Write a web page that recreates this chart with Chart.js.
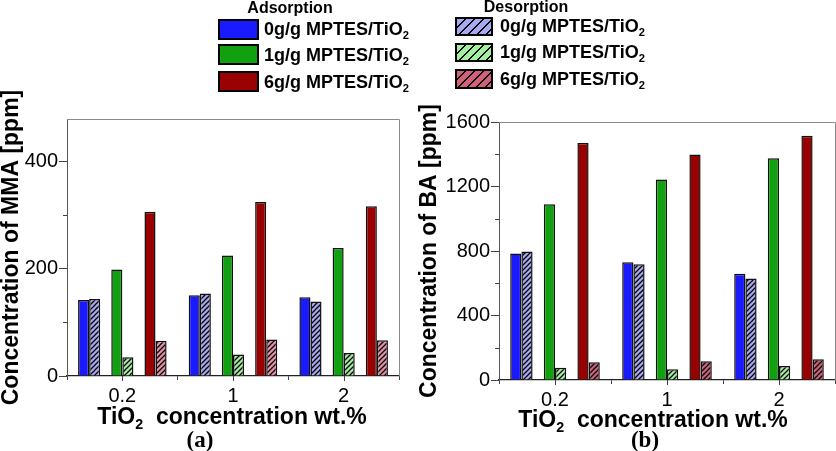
<!DOCTYPE html>
<html>
<head>
<meta charset="utf-8">
<script src="https://cdn.jsdelivr.net/npm/chart.js@4/dist/chart.umd.min.js"></script>
<style>
  html, body { margin:0; padding:0; background:#fff; }
  body { width:836px; height:451px; position:relative; overflow:hidden; font-family:'Liberation Sans', Arial, sans-serif; }
  canvas { position:absolute; top:0; }
  .t { position:absolute; white-space:nowrap; font-weight:bold; color:#000; }
  .sub { font-size:0.62em; position:relative; top:0.32em; }
  .sw { position:absolute; box-sizing:border-box; border:2px solid #000; }
  .leg { font-size:18px; line-height:18px; }
  .ttl { font-size:16px; line-height:16px; transform:translateX(-50%); }
  .xt { font-size:23px; line-height:23px; transform:translateX(-50%); }
  .pl { font-family:'Liberation Serif','Times New Roman',serif; font-size:23px; line-height:23px; transform:translateX(-50%); }
</style>
</head>
<body>
<canvas id="ca" width="418" height="451" style="left:0;width:418px;height:451px"></canvas>
<canvas id="cb" width="418" height="451" style="left:418px;width:418px;height:451px"></canvas>

<!-- legend -->
<div class="t ttl" style="left:290px;top:0px">Adsorption</div>
<div class="sw" style="left:218px;top:19px;width:41px;height:21px;background:#1a1aff"></div>
<div class="sw" style="left:218px;top:44px;width:41px;height:21px;background:#10a010"></div>
<div class="sw" style="left:218px;top:71px;width:41px;height:21px;background:#990000"></div>
<div class="t leg" style="left:264px;top:20px">0g/g MPTES/TiO<span class="sub">2</span></div>
<div class="t leg" style="left:264px;top:46px">1g/g MPTES/TiO<span class="sub">2</span></div>
<div class="t leg" style="left:264px;top:73px">6g/g MPTES/TiO<span class="sub">2</span></div>

<div class="t ttl" style="left:526px;top:-1px">Desorption</div>
<div class="sw" style="left:455px;top:17px;width:38px;height:19px;background:repeating-linear-gradient(135deg,#a8a8f0 0 5px,#000 5px 6.5px)"></div>
<div class="sw" style="left:455px;top:43px;width:38px;height:19px;background:repeating-linear-gradient(135deg,#a0f0a0 0 5px,#000 5px 6.5px)"></div>
<div class="sw" style="left:455px;top:69px;width:38px;height:20px;background:repeating-linear-gradient(135deg,#d0607c 0 5px,#000 5px 6.5px)"></div>
<div class="t leg" style="left:500px;top:17px">0g/g MPTES/TiO<span class="sub">2</span></div>
<div class="t leg" style="left:500px;top:43px">1g/g MPTES/TiO<span class="sub">2</span></div>
<div class="t leg" style="left:500px;top:70px">6g/g MPTES/TiO<span class="sub">2</span></div>

<!-- x titles and panel labels -->
<div class="t xt" style="left:232px;top:405px">TiO<span class="sub">2</span>&nbsp; concentration wt.%</div>
<div class="t xt" style="left:653px;top:408px">TiO<span class="sub">2</span>&nbsp; concentration wt.%</div>
<div class="t pl" style="left:200px;top:428px">(a)</div>
<div class="t pl" style="left:645px;top:428px">(b)</div>

<script>
// ---- data ----
const categories = ['0.2', '1', '2'];

const mmaAds0 = [142, 151, 147];
const mmaAds1 = [199, 225, 239];
const mmaAds6 = [307, 325, 317];
const mmaDes0 = [144, 154, 139];
const mmaDes1 = [35, 40, 43];
const mmaDes6 = [66, 68, 67];

const baAds0 = [785, 731, 659];
const baAds1 = [1090, 1243, 1375];
const baAds6 = [1470, 1398, 1515];
const baDes0 = [797, 718, 630];
const baDes1 = [76, 66, 87];
const baDes6 = [110, 116, 129];

const mmaMajorTicks = [0, 200, 400];
const mmaMinorTicks = [100, 300];
const baMajorTicks = [0, 400, 800, 1200, 1600];
const baMinorTicks = [200, 600, 1000, 1400];

// ---- helpers ----
function hatch(bg) {
  const s = 5;
  const c = document.createElement('canvas');
  c.width = s; c.height = s;
  const g = c.getContext('2d');
  g.fillStyle = bg; g.fillRect(0, 0, s, s);
  g.strokeStyle = '#000'; g.lineWidth = 1.3;
  g.beginPath();
  g.moveTo(0, s); g.lineTo(s, 0);
  g.moveTo(-1, 1); g.lineTo(1, -1);
  g.moveTo(s - 1, s + 1); g.lineTo(s + 1, s - 1);
  g.stroke();
  return g.createPattern(c, 'repeat');
}

const FONT = "'Liberation Sans', Arial, sans-serif";

function ds(label, data, bg) {
  return { label, data, backgroundColor: bg, borderColor: '#111', borderWidth: 1.5,
           categoryPercentage: 0.8, barPercentage: 1.0 };
}

const framePlugin = {
  id: 'frame',
  afterDraw(chart, args, opts) {
    const { ctx, chartArea: a, scales } = chart;
    ctx.save();
    ctx.strokeStyle = '#8a8a8a'; ctx.lineWidth = 1;
    ctx.beginPath();
    ctx.moveTo(a.left, a.top + 0.5); ctx.lineTo(a.right + 0.5, a.top + 0.5);
    ctx.lineTo(a.right + 0.5, a.bottom);
    ctx.stroke();
    ctx.strokeStyle = '#444';
    ctx.beginPath();
    opts.minor.forEach(v => {
      const y = Math.round(scales.y.getPixelForValue(v)) + 0.5;
      ctx.moveTo(a.left - 4, y); ctx.lineTo(a.left, y);
    });
    for (let i = 0; i < chart.data.labels.length; i++) {
      const x = Math.round(scales.x.getPixelForValue(i)) + 0.5;
      ctx.moveTo(x, a.bottom); ctx.lineTo(x, a.bottom + 5);
    }
    ctx.stroke();
    ctx.restore();
  }
};

function makeChart(id, labels, datasets, yTitle, max, majors, minors, yWidth, xHeight, padTop, padRight) {
  return new Chart(document.getElementById(id), {
    type: 'bar',
    data: { labels, datasets },
    plugins: [framePlugin],
    options: {
      responsive: false, animation: false, devicePixelRatio: 1,
      layout: { padding: { top: padTop, right: padRight, bottom: 0, left: 0 } },
      plugins: { legend: { display: false }, tooltip: { enabled: false }, frame: { minor: minors } },
      scales: {
        x: {
          grid: { display: true, drawOnChartArea: false, offset: true, tickLength: 4, color: '#444' },
          border: { color: '#222', width: 1.3 },
          ticks: { color: '#000', font: { family: FONT, size: 20 }, padding: 4, maxRotation: 0 },
          afterFit(s) { s.height = xHeight; }
        },
        y: {
          min: 0, max,
          grid: { drawOnChartArea: false, tickLength: 8, color: '#444' },
          border: { color: '#555', width: 1 },
          ticks: { color: '#000', font: { family: FONT, size: 20 }, padding: 1,
                   callback: v => String(v) },
          afterBuildTicks(s) { s.ticks = majors.map(v => ({ value: v })); },
          title: { display: true, text: yTitle, color: '#000',
                   font: { family: FONT, size: 23, weight: 'bold', lineHeight: 1 },
                   padding: { top: 0, bottom: 0 } },
          afterFit(s) { s.width = yWidth; }
        }
      }
    }
  });
}

const gap = () => ({ label: '', data: [], backgroundColor: 'rgba(0,0,0,0)', borderWidth: 0,
                     categoryPercentage: 0.8, barPercentage: 1.0 });

makeChart('ca', categories, [
  ds('0g/g MPTES/TiO2 adsorption', mmaAds0, '#1a1aff'),
  ds('0g/g MPTES/TiO2 desorption', mmaDes0, hatch('#a8a8f0')),
  gap(),
  ds('1g/g MPTES/TiO2 adsorption', mmaAds1, '#10a010'),
  ds('1g/g MPTES/TiO2 desorption', mmaDes1, hatch('#a0f0a0')),
  gap(),
  ds('6g/g MPTES/TiO2 adsorption', mmaAds6, '#990000'),
  ds('6g/g MPTES/TiO2 desorption', mmaDes6, hatch('#e890a8'))
], 'Concentration of MMA [ppm]', 480, mmaMajorTicks, mmaMinorTicks, 67, 75, 119, 19);

makeChart('cb', categories, [
  ds('0g/g MPTES/TiO2 adsorption', baAds0, '#1a1aff'),
  ds('0g/g MPTES/TiO2 desorption', baDes0, hatch('#a8a8f0')),
  gap(),
  ds('1g/g MPTES/TiO2 adsorption', baAds1, '#10a010'),
  ds('1g/g MPTES/TiO2 desorption', baDes1, hatch('#a0f0a0')),
  gap(),
  ds('6g/g MPTES/TiO2 adsorption', baAds6, '#990000'),
  ds('6g/g MPTES/TiO2 desorption', baDes6, hatch('#d0607c'))
], 'Concentration of BA [ppm]', 1600, baMajorTicks, baMinorTicks, 81, 71, 122, 1);
</script>
</body>
</html>
